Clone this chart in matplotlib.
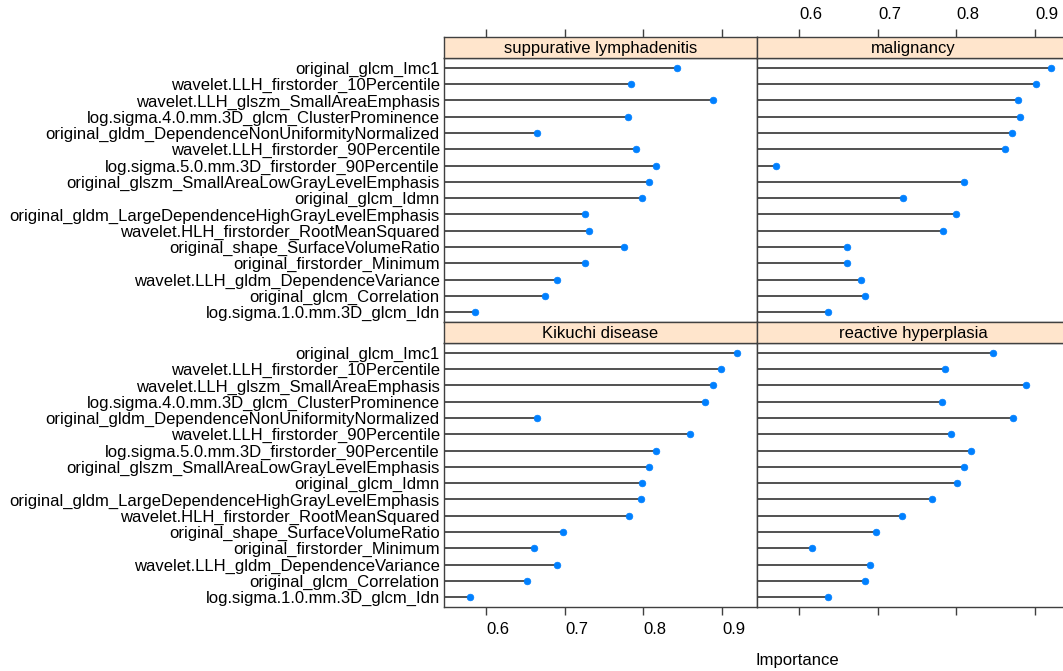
import matplotlib
matplotlib.use("Agg")
import matplotlib.pyplot as plt

plt.rcParams['font.family'] = ['Liberation Sans', 'DejaVu Sans']

features = [
    "original_glcm_Imc1",
    "wavelet.LLH_firstorder_10Percentile",
    "wavelet.LLH_glszm_SmallAreaEmphasis",
    "log.sigma.4.0.mm.3D_glcm_ClusterProminence",
    "original_gldm_DependenceNonUniformityNormalized",
    "wavelet.LLH_firstorder_90Percentile",
    "log.sigma.5.0.mm.3D_firstorder_90Percentile",
    "original_glszm_SmallAreaLowGrayLevelEmphasis",
    "original_glcm_Idmn",
    "original_gldm_LargeDependenceHighGrayLevelEmphasis",
    "wavelet.HLH_firstorder_RootMeanSquared",
    "original_shape_SurfaceVolumeRatio",
    "original_firstorder_Minimum",
    "wavelet.LLH_gldm_DependenceVariance",
    "original_glcm_Correlation",
    "log.sigma.1.0.mm.3D_glcm_Idn",
]

suppurative = [0.843, 0.784, 0.888, 0.780, 0.664, 0.790, 0.816, 0.807,
               0.798, 0.725, 0.731, 0.775, 0.725, 0.690, 0.675, 0.585]
malignancy = [0.921, 0.901, 0.878, 0.881, 0.871, 0.862, 0.570, 0.810,
              0.732, 0.800, 0.783, 0.660, 0.660, 0.679, 0.684, 0.636]
kikuchi = [0.919, 0.899, 0.888, 0.878, 0.664, 0.859, 0.816, 0.807,
           0.798, 0.797, 0.781, 0.698, 0.661, 0.690, 0.651, 0.579]
reactive = [0.846, 0.786, 0.889, 0.782, 0.872, 0.793, 0.818, 0.810,
            0.801, 0.769, 0.731, 0.698, 0.616, 0.690, 0.684, 0.636]

panel_titles = ["suppurative lymphadenitis", "malignancy",
                "Kikuchi disease", "reactive hyperplasia"]
panel_values = [suppurative, malignancy, kikuchi, reactive]
tick_values = [0.6, 0.7, 0.8, 0.9]
tick_labels = ["0.6", "0.7", "0.8", "0.9"]
xlabel = "Importance"

W, H = 1063, 671
fig = plt.figure(figsize=(W / 100, H / 100), dpi=100)

XMIN, XMAX = 0.5459, 0.9446
border_col = '#404040'
line_col = '#333333'
dot_col = '#0080ff'
strip_col = '#ffe5cc'
fs = 12

def fx(px):
    return px / W

def fy(py):
    return 1 - py / H

col_x = [444, 757]
col_w = 313
rows_y = [(37, 58, 322), (322, 343, 607)]  # strip top, strip bottom/panel top, panel bottom

ypos = list(range(1, len(features) + 1))

for i, (title, vals) in enumerate(zip(panel_titles, panel_values)):
    r, c = divmod(i, 2)
    st, pt, pb = rows_y[r]
    x0 = col_x[c]
    ax = fig.add_axes([fx(x0), fy(pb), fx(col_w), (pb - pt) / H])
    sax = fig.add_axes([fx(x0), fy(pt), fx(col_w), (pt - st) / H])
    ax.set_xlim(XMIN, XMAX)
    ax.set_ylim(len(features) + 0.6, 0.4)
    sax.set_xlim(XMIN, XMAX)
    sax.set_ylim(0, 1)
    sax.set_facecolor(strip_col)
    sax.text(0.5, 0.47, title, transform=sax.transAxes, ha='center', va='center',
             fontsize=fs)
    for a in (ax, sax):
        for sp in a.spines.values():
            sp.set_color(border_col)
            sp.set_linewidth(1.0)
    ax.hlines(ypos, XMIN, vals, color=line_col, lw=1.2)
    ax.plot(vals, ypos, 'o', color=dot_col, ms=4.8, mec=dot_col, mew=0.5)
    # y labels
    ax.set_yticks(ypos)
    if c == 0:
        ax.set_yticklabels(features, fontsize=fs)
        ax.tick_params(axis='y', length=0, pad=3)
    else:
        ax.set_yticklabels([])
        ax.tick_params(axis='y', length=0)
    sax.set_yticks([])
    # x ticks
    ax.set_xticks(tick_values)
    sax.set_xticks(tick_values)
    if r == 1:
        ax.tick_params(axis='x', direction='out', length=6, width=1,
                       color=border_col, bottom=True, top=False,
                       labelbottom=False)
        if c == 0:
            for tv, tl in zip(tick_values, tick_labels):
                ax.text(tv, -0.055, tl, transform=ax.get_xaxis_transform(),
                        ha='left', va='top', fontsize=fs)
        sax.tick_params(axis='x', bottom=False, top=False,
                        labelbottom=False, labeltop=False)
    else:
        ax.tick_params(axis='x', bottom=False, top=False,
                       labelbottom=False, labeltop=False)
        sax.tick_params(axis='x', direction='out', length=6, width=1,
                        color=border_col, bottom=False, top=True,
                        labelbottom=False, labeltop=False)
        if c == 1:
            for tv, tl in zip(tick_values, tick_labels):
                sax.text(tv, 1.0 + 15 / 21, tl, transform=sax.get_xaxis_transform(),
                         ha='left', va='bottom', fontsize=fs)

fig.text(fx(797), fy(660), xlabel, ha='center', va='center', fontsize=fs)

fig.savefig("out.png", dpi=100)
